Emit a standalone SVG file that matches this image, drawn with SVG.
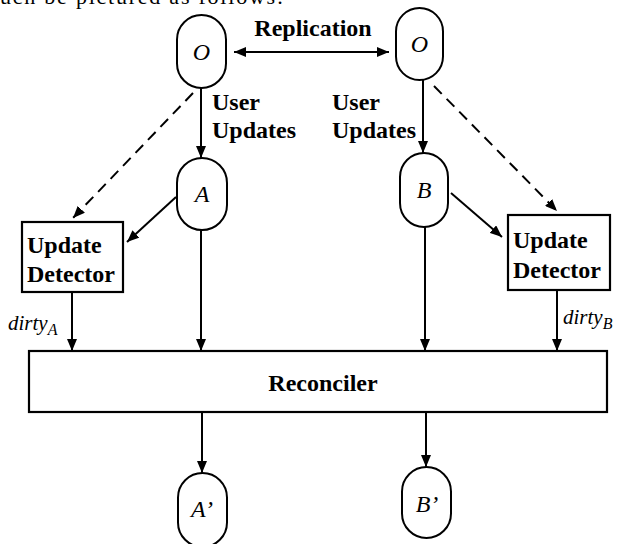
<svg xmlns="http://www.w3.org/2000/svg" width="620" height="544" viewBox="0 0 620 544">
<defs>
<marker id="ah" markerUnits="userSpaceOnUse" markerWidth="12" markerHeight="10" refX="12" refY="5" orient="auto-start-reverse" viewBox="0 0 12 10">
<path d="M0,0 L12,5 L0,10 z" fill="#000"/>
</marker>
<style>
.cap{fill:#fff;stroke:#000;stroke-width:2}
.box{fill:#fff;stroke:#000;stroke-width:2.2}
.ln{fill:none;stroke:#000;stroke-width:2;marker-end:url(#ah)}
.dash{stroke-dasharray:11,7}
.it{font-family:"Liberation Serif",serif;font-style:italic;font-size:24px;text-anchor:middle}
.b{font-family:"Liberation Serif",serif;font-weight:bold;font-size:24px}
.d{font-family:"Liberation Serif",serif;font-style:italic;font-size:21px}
</style>
</defs>
<rect width="620" height="544" fill="#fff"/>
<text x="0" y="4" font-family="Liberation Serif,serif" font-size="22" textLength="283">uch be pictured as follows:</text>

<g id="connectors">
<line class="ln" x1="234" y1="52" x2="389" y2="52" style="marker-start:url(#ah)"/>
<line class="ln" x1="201" y1="88" x2="201" y2="158"/>
<line class="ln" x1="423" y1="80" x2="423" y2="153"/>
<line class="ln dash" x1="193" y1="93" x2="73" y2="218"/>
<line class="ln dash" x1="434" y1="86" x2="557" y2="211"/>
<line class="ln" x1="176" y1="197" x2="127" y2="242"/>
<line class="ln" x1="451" y1="193" x2="502" y2="237"/>
<line class="ln" x1="72" y1="292" x2="72" y2="351"/>
<line class="ln" x1="201" y1="230" x2="201" y2="351"/>
<line class="ln" x1="425" y1="227" x2="425" y2="351"/>
<line class="ln" x1="557" y1="290" x2="557" y2="351"/>
<line class="ln" x1="202" y1="412" x2="202" y2="473"/>
<line class="ln" x1="426" y1="412" x2="426" y2="467"/>
</g>

<g id="labels">
<text class="b" x="313" y="36" text-anchor="middle">Replication</text>
<text class="b" x="212" y="110">User</text>
<text class="b" x="212" y="138">Updates</text>
<text class="b" x="332" y="110">User</text>
<text class="b" x="332" y="138">Updates</text>
<text class="d" x="8" y="330">dirty<tspan font-size="16" dy="5">A</tspan></text>
<text class="d" x="563" y="324">dirty<tspan font-size="16" dy="5">B</tspan></text>
</g>

<g id="O-left"><rect class="cap" x="177" y="15" width="49" height="73" rx="24.5"/><text class="it" x="201.5" y="60">O</text></g>
<g id="O-right"><rect class="cap" x="396" y="8" width="47" height="72" rx="23.5"/><text class="it" x="419.5" y="52">O</text></g>
<g id="A"><rect class="cap" x="177" y="158" width="50" height="72" rx="25"/><text class="it" x="202" y="202">A</text></g>
<g id="B"><rect class="cap" x="400" y="153" width="48" height="74" rx="24"/><text class="it" x="424" y="198">B</text></g>
<g id="detector-A"><rect class="box" x="22" y="222" width="101" height="70"/><text class="b" x="27" y="253">Update</text><text class="b" x="27" y="282">Detector</text></g>
<g id="detector-B"><rect class="box" x="508" y="215" width="102" height="75"/><text class="b" x="513" y="248">Update</text><text class="b" x="513" y="278">Detector</text></g>
<g id="reconciler"><rect class="box" x="29" y="351" width="578" height="61"/><text class="b" x="323" y="391" text-anchor="middle">Reconciler</text></g>
<g id="A-prime"><rect class="cap" x="178" y="473" width="49" height="74" rx="24.5"/><text class="it" x="202" y="517">A’</text></g>
<g id="B-prime"><rect class="cap" x="402" y="467" width="49" height="71" rx="24.5"/><text class="it" x="427" y="512">B’</text></g>
</svg>
